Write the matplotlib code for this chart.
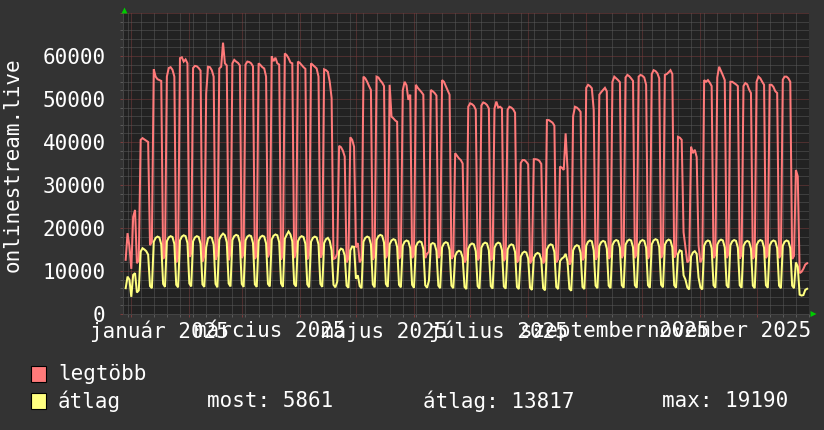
import datetime as dt

import matplotlib
matplotlib.use('Agg')
import matplotlib.pyplot as plt
import matplotlib.dates as mdates
from matplotlib.patches import Rectangle, Polygon
from matplotlib.transforms import ScaledTranslation


# %% data (one value per day, 2024-12-29 .. 2025-12-28, weeks start on Monday)

first_day = dt.date(2024, 12, 29)

legtobb = [
    12600,
    18800, 15700, 10500, 22600, 24200, 11800, 12500,
    40500, 40900, 40600, 40300, 40000, 16000, 16800,
    56900, 55200, 54600, 54400, 54200, 12800, 13500,
    55200, 57200, 57400, 56800, 55200, 12000, 13000,
    59500, 59700, 58700, 59200, 58300, 13300, 14000,
    57200, 57700, 57600, 57200, 56600, 12200, 13500,
    51300, 57500, 57400, 56700, 55200, 12600, 13800,
    57100, 57500, 63100, 58300, 57800, 12500, 14200,
    58300, 59100, 58700, 58400, 57800, 13000, 14000,
    58000, 58700, 58600, 58300, 57600, 12800, 13600,
    58300, 57900, 57400, 57100, 55200, 13200, 14400,
    59900, 58800, 59600, 58300, 58000, 12600, 13900,
    60600, 60200, 59500, 58500, 58300, 13000, 14500,
    58700, 58400, 57900, 57400, 57000, 12700, 13800,
    58300, 57900, 57500, 57100, 55200, 13100, 14000,
    56900, 56700, 56300, 54000, 50200, 12800, 13000,
    14000, 39100, 38800, 38000, 36600, 12000, 13000,
    41100, 40500, 38900, 15500, 16500, 12000, 12800,
    55200, 54800, 54000, 53000, 52100, 12600, 13500,
    55200, 55000, 54300, 53800, 53000, 13000, 14000,
    53300, 45900, 45500, 45000, 44700, 12800, 13600,
    52000, 54000, 53200, 49800, 51000, 13000, 13800,
    53300, 52600, 52100, 51600, 51000, 13000, 14000,
    14500, 52100, 51800, 51400, 50800, 13000, 13800,
    54400, 54000, 53000, 52000, 51000, 12800, 13500,
    37400, 36800, 36200, 35800, 35000, 12000, 12800,
    48200, 49000, 48800, 48400, 47500, 12500, 13200,
    48500, 49200, 49000, 48600, 47800, 12400, 13000,
    47800, 49400, 48000, 48200, 47800, 12300, 13100,
    47500, 48200, 48000, 47600, 46800, 12000, 12600,
    35100, 35800, 35800, 35400, 34800, 11800, 12500,
    36000, 36000, 35900, 35600, 34900, 11800, 12400,
    45100, 45100, 44800, 44500, 43800, 12000, 12800,
    34300, 34000, 33500, 42000, 33800, 11500, 12200,
    46000, 48200, 48000, 47600, 47000, 12500, 13300,
    52600, 53300, 53000, 52500, 47500, 12600, 13500,
    51000, 51600, 52100, 52600, 51800, 12800, 13500,
    54000, 55200, 54800, 54400, 53900, 13000, 14000,
    55000, 55600, 55300, 54800, 54200, 13000, 14000,
    55200, 55600, 55400, 55000, 53300, 12800, 13800,
    55800, 56700, 56500, 56000, 54800, 13000, 14000,
    55600, 55800, 56200, 56700, 55800, 13100, 14000,
    41200, 41000, 40500, 19000, 15500, 12000, 12500,
    38900, 37400, 38200, 36500, 16000, 12000, 13000,
    54400, 54000, 54400, 53800, 53000, 13000, 13800,
    55000, 57500, 56500, 55500, 54400, 13000, 14000,
    54000, 54000, 53700, 53400, 53000, 12900, 13800,
    53000, 53700, 53400, 52200, 51400, 12800, 13600,
    54000, 55200, 54800, 54000, 53300, 13000, 13800,
    53300, 53300, 52800, 51800, 51400, 13000, 13800,
    54500, 55200, 55200, 54800, 54000, 12800, 13500,
    33500, 32000, 9500, 9800, 10500, 11500, 11800,
]

atlag = [
    6000,
    8700, 8000, 4000, 9100, 9500, 5000, 5500,
    14500, 15300, 15000, 14600, 13800, 6500, 6000,
    16800, 17700, 18000, 17800, 16200, 7000, 6300,
    16900, 17800, 18100, 17900, 16300, 6800, 6200,
    17100, 18000, 18300, 18100, 16500, 7100, 6400,
    16900, 17800, 18100, 17900, 16300, 6900, 6300,
    15500, 17600, 17900, 17700, 16100, 7000, 6200,
    17300, 18200, 18700, 18300, 16700, 7100, 6400,
    17200, 18100, 18400, 18200, 16600, 7000, 6300,
    17100, 18000, 18300, 18100, 16500, 6900, 6300,
    17000, 17900, 18200, 18000, 16400, 7000, 6400,
    17300, 18200, 18500, 18300, 16700, 7100, 6300,
    17500, 18400, 19190, 18500, 16900, 7000, 6400,
    16900, 17800, 18100, 17900, 16300, 6900, 6200,
    16800, 17700, 18000, 17800, 16200, 7000, 6300,
    16500, 17400, 17700, 17000, 14800, 6800, 6200,
    7500, 14600, 15200, 15000, 13600, 6600, 6100,
    14800, 15700, 15600, 8200, 9000, 6500, 6000,
    16800, 17700, 18000, 17800, 16200, 6900, 6200,
    17200, 18100, 18400, 18200, 16600, 7000, 6300,
    16200, 17100, 17400, 17200, 15600, 6800, 6200,
    15900, 16800, 17100, 16900, 15300, 6800, 6100,
    15700, 16600, 16900, 16700, 15100, 6700, 6100,
    7800, 16200, 16500, 16300, 14700, 6600, 6000,
    15500, 16400, 16700, 16500, 14900, 6600, 6000,
    13500, 14400, 14700, 14500, 13100, 6300, 5800,
    15200, 16100, 16400, 16200, 14600, 6500, 5900,
    15400, 16300, 16600, 16400, 14800, 6500, 5900,
    15400, 16300, 16600, 16400, 14800, 6400, 5900,
    15000, 15900, 16200, 16000, 14400, 6300, 5800,
    13300, 14200, 14500, 14300, 12900, 6100, 5600,
    13000, 13900, 14200, 14000, 12600, 6000, 5500,
    15000, 15900, 16200, 16000, 14400, 6300, 5800,
    12300, 12900, 13200, 14000, 12200, 5900, 5400,
    14800, 15700, 16000, 15800, 14200, 6300, 5800,
    15900, 16800, 17100, 16900, 14800, 6600, 6000,
    15800, 16700, 17000, 16800, 15200, 6600, 6000,
    16000, 16900, 17200, 17000, 15400, 6700, 6100,
    16100, 17000, 17300, 17100, 15500, 6700, 6100,
    16000, 16900, 17200, 17000, 15400, 6700, 6100,
    16200, 17100, 17400, 17200, 15600, 6800, 6200,
    16100, 17000, 17300, 17100, 15500, 6700, 6100,
    13900, 14800, 14600, 9000, 8000, 6200, 5700,
    13400, 14300, 14600, 14000, 8500, 6200, 5700,
    15900, 16800, 17100, 16900, 15300, 6700, 6100,
    16100, 17000, 17300, 17100, 15500, 6700, 6100,
    16000, 16900, 17200, 17000, 15400, 6700, 6100,
    15800, 16700, 17000, 16800, 15200, 6600, 6000,
    16000, 16900, 17200, 17000, 15400, 6700, 6100,
    15900, 16800, 17100, 16900, 15300, 6600, 6000,
    15900, 16800, 17100, 16900, 15300, 6600, 6000,
    12000, 11000, 4500, 4300, 4400, 5600, 5861,
]

month_labels = ['január 2025', 'március 2025', 'május 2025',
                'július 2025', 'szeptember 2025', 'november 2025']
label_months = [1, 3, 5, 7, 9, 11]
y_ticks = [0, 10000, 20000, 30000, 40000, 50000, 60000]
legend_stats = ['most: 5861', 'átlag: 13817', 'max: 19190']
y_label = 'onlinestream.live'

# %% style

W, H = 824, 430
bg_outer = '#333333'
bg_plot = '#222222'
c_max = '#ff7a7a'
c_avg = '#ffff80'
c_minor = '#5a5a5a'
c_major = '#7a3c3c'
c_text = '#ffffff'
c_arrow = '#00cc00'
mono = 'DejaVu Sans Mono'
fs = 15

# plot area in pixels
px_left, px_right, px_top, px_bottom = 123, 809, 13, 314


def fx(px):
    return px / W


def fy(py):
    return 1 - py / H


# %% figure

fig = plt.figure(figsize=(W / 100, H / 100), dpi=100, facecolor=bg_outer)
ax = fig.add_axes([fx(px_left), fy(px_bottom),
                   (px_right - px_left) / W, (px_bottom - px_top) / H])
ax.set_facecolor(bg_plot)

days = [first_day + dt.timedelta(days=i) for i in range(len(legtobb))]
x = mdates.date2num(days)

jan1 = mdates.date2num(dt.date(2025, 1, 1))
ax.set_xlim(jan1 - 4.43, jan1 + 361.8)
ax.set_ylim(0, 70000)

# grid
mondays = [dt.date(2024, 12, 30) + dt.timedelta(days=7 * i) for i in range(53)]
month_starts = [dt.date(2025, m, 1) for m in range(1, 13)]
ax.set_xticks(mdates.date2num(month_starts))
ax.set_xticks(mdates.date2num(mondays), minor=True)
ax.set_yticks(y_ticks + [70000])
ax.set_yticks(range(0, 70001, 2000), minor=True)
ax.set_xticklabels([])
ax.set_yticklabels([str(v) for v in y_ticks] + [''])

ax.grid(which='minor', color=c_minor, linestyle=(0, (1, 1)), linewidth=0.72)
ax.grid(which='major', color=c_major, linestyle=(0, (1, 1)), linewidth=0.72)
ax.set_axisbelow(True)

ax.tick_params(which='both', direction='out', length=2.5, width=0.72)
ax.tick_params(which='major', colors=c_major, labelcolor=c_text,
               labelsize=fs, pad=10)
ax.tick_params(which='minor', colors=c_minor)
for lab in ax.get_yticklabels():
    lab.set_family(mono)

for side in ['top', 'right']:
    ax.spines[side].set_visible(False)
for side in ['bottom', 'left']:
    ax.spines[side].set_color('#444444')
    ax.spines[side].set_linewidth(0.72)

# series
ax.plot(x, legtobb, color=c_max, linewidth=1.45, solid_joinstyle='miter')
ax.plot(x, atlag, color=c_avg, linewidth=1.45, solid_joinstyle='miter')

# month labels, centred half a month after the month start
down = ScaledTranslation(0, -17 / 100, fig.dpi_scale_trans)
for m, lab in zip(label_months, month_labels):
    xm = mdates.date2num(dt.date(2025, m, 1)) + 15.2
    ax.text(xm, 0, lab, transform=ax.get_xaxis_transform() + down,
            ha='center', va='center', family=mono, fontsize=fs, color=c_text,
            clip_on=False)

# arrows at the axis ends
fig.add_artist(Polygon([[fx(121.5), fy(13.5)], [fx(127.5), fy(13.5)], [fx(124.5), fy(7.5)]],
                       closed=True, transform=fig.transFigure, color=c_arrow, lw=0))
fig.add_artist(Polygon([[fx(810.5), fy(311)], [fx(810.5), fy(317)], [fx(816.5), fy(314)]],
                       closed=True, transform=fig.transFigure, color=c_arrow, lw=0))

# y label
fig.text(fx(13), fy(165), y_label, rotation=90, ha='center', va='center',
         family=mono, fontsize=fs, color=c_text)

# legend
for py, col, name in [(374, c_max, 'legtöbb'), (401, c_avg, 'átlag')]:
    fig.add_artist(Rectangle((fx(31.5), fy(py + 8)), 14 / W, 16 / H,
                             transform=fig.transFigure, facecolor=col,
                             edgecolor='black', linewidth=0.8))
    fig.text(fx(58), fy(py), name, ha='left', va='center', family=mono,
             fontsize=fs, color=c_text)

for px, s in zip([207, 423, 662], legend_stats):
    fig.text(fx(px), fy(401), s, ha='left', va='center', family=mono,
             fontsize=fs, color=c_text)

fig.savefig('out.png', dpi=100, facecolor=bg_outer)
